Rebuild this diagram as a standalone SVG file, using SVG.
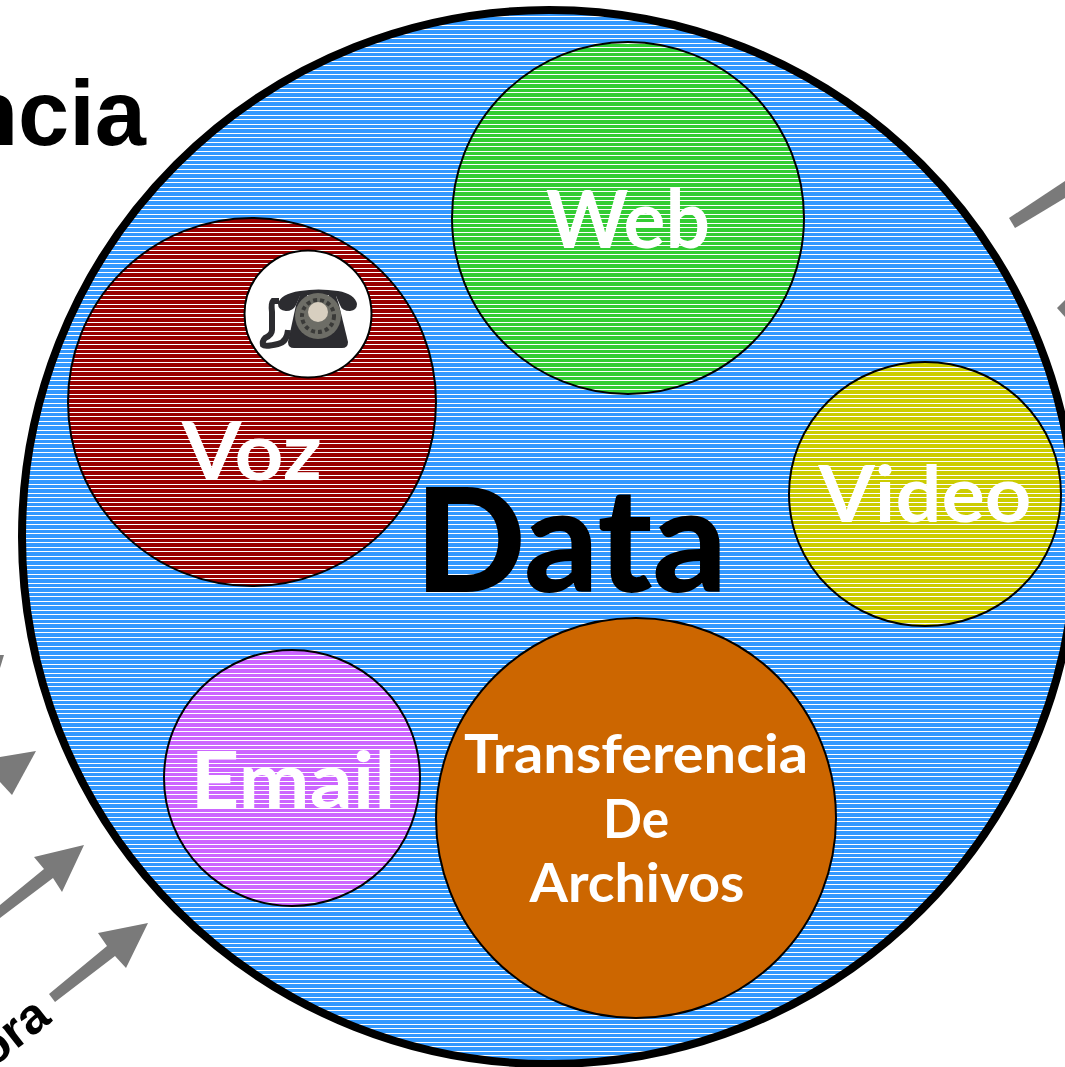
<svg xmlns="http://www.w3.org/2000/svg" width="1065" height="1067" viewBox="0 0 1065 1067">
<style>
.c{stroke:#000;stroke-width:2}
.t{font-family:Lato,"Noto Sans",sans-serif;font-weight:700;fill:#fff;text-anchor:middle}
.h{font-family:"Liberation Sans",Arial,sans-serif;font-weight:700;fill:#000}
.a{fill:#7a7a7a}
.ph{fill:#2c2c30}
</style>
<defs>
<pattern id="pb" width="10" height="9" patternUnits="userSpaceOnUse"><rect width="10" height="9" fill="#3399ff"/><rect y="2" width="10" height="1" fill="#fff"/><rect y="7" width="10" height="1" fill="#fff"/></pattern>
<pattern id="pr" width="10" height="9" patternUnits="userSpaceOnUse"><rect width="10" height="9" fill="#990000"/><rect y="2" width="10" height="1" fill="#fff"/><rect y="7" width="10" height="1" fill="#fff"/></pattern>
<pattern id="pg" width="10" height="9" patternUnits="userSpaceOnUse"><rect width="10" height="9" fill="#33cc33"/><rect y="2" width="10" height="1" fill="#fff"/><rect y="7" width="10" height="1" fill="#fff"/></pattern>
<pattern id="py" width="10" height="9" patternUnits="userSpaceOnUse"><rect width="10" height="9" fill="#cccc00"/><rect y="2" width="10" height="1" fill="#fff"/><rect y="7" width="10" height="1" fill="#fff"/></pattern>
<pattern id="pm" width="10" height="9" patternUnits="userSpaceOnUse"><rect width="10" height="9" fill="#cc66ff"/><rect y="2" width="10" height="1" fill="#fff"/><rect y="7" width="10" height="1" fill="#fff"/></pattern>
</defs>
<rect width="1065" height="1067" fill="#fff"/>
<text class="h" x="146" y="145" font-size="92" text-anchor="end">ncia</text>
<g id="connectors">
<path class="a" d="M1065 181V198L1015 228L1009 218Z"/>
<path class="a" d="M1065 300V317L1057 308Z"/>
<path class="a" d="M0 655H4L0 668Z"/>
<path class="a" d="M0 757L36 751L12 795L0 782Z"/>
<path class="a" d="M84 845L62 892L53 878L0 918V905L44 869L34 857Z"/>
<path class="a" d="M148 923L126 968L115 956L55 1002L49 994L107 946L98 933Z"/>
</g>
<text class="h" transform="translate(53 1021) rotate(-38)" font-size="50" text-anchor="end">ora</text>
<g id="data">
<circle cx="549" cy="537" r="527" fill="url(#pb)" stroke="#000" stroke-width="8"/>
<text x="571" y="592" font-family="Lato,'Noto Sans',sans-serif" font-weight="900" font-size="145" text-anchor="middle" fill="#000" textLength="312" lengthAdjust="spacingAndGlyphs">Data</text>
</g>
<g id="web"><circle class="c" cx="628" cy="218" r="176" fill="url(#pg)"/><text class="t" x="628" y="248" font-size="81" textLength="164" lengthAdjust="spacingAndGlyphs">Web</text></g>
<g id="voz"><circle class="c" cx="252" cy="402" r="184" fill="url(#pr)"/>
<text class="t" x="252" y="480" font-size="80" textLength="140" lengthAdjust="spacingAndGlyphs">Voz</text></g>
<g id="phone">
<circle cx="308" cy="314" r="63.5" fill="#fff" stroke="#000" stroke-width="2"/>
<path class="ph" d="M278 304Q280 294 300 291Q318 288 338 291Q355 294 357 304Q357 310 350 311Q342 311 340 305L336 296H300L296 305Q293 311 286 311Q278 310 278 304Z"/>
<path class="ph" d="M301 293H335L339 305L348 342Q348 348 342 348H294Q288 348 288 342L296 305Z"/>
<rect x="307" y="295" width="22" height="4" fill="#cfcfcf"/>
<circle cx="318" cy="316" r="23" fill="#6d6d66"/>
<circle cx="318" cy="316" r="16" fill="none" stroke="#3a3a38" stroke-width="4" stroke-dasharray="4 3"/>
<circle cx="318" cy="312" r="10" fill="#d8cfc0"/>
<path d="M279 301H273Q271 303 272 312V330Q272 335 265 338Q262 341 263 345Q265 347 278 344Q287 342 288 330" fill="none" stroke="#2c2c30" stroke-width="6"/>
</g>
<g id="video"><ellipse class="c" cx="925" cy="494" rx="136" ry="132" fill="url(#py)"/><text class="t" x="925" y="522" font-size="78" textLength="213" lengthAdjust="spacingAndGlyphs">Video</text></g>
<g id="email"><circle class="c" cx="292" cy="778" r="128" fill="url(#pm)"/><text class="t" x="293" y="808" font-size="78" textLength="205" lengthAdjust="spacingAndGlyphs">Email</text></g>
<g id="archivos"><circle class="c" cx="636" cy="818" r="200" fill="#cc6600"/>
<text class="t" x="636" y="773" font-size="53" textLength="344" lengthAdjust="spacingAndGlyphs">Transferencia</text>
<text class="t" x="636" y="838" font-size="53" textLength="66" lengthAdjust="spacingAndGlyphs">De</text>
<text class="t" x="637" y="902" font-size="53" textLength="215" lengthAdjust="spacingAndGlyphs">Archivos</text></g>
</svg>
